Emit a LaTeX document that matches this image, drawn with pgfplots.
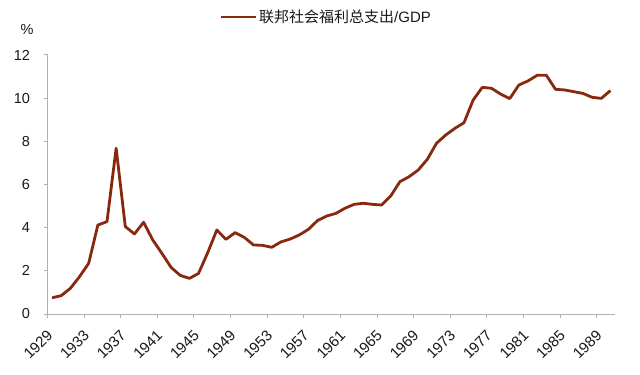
\documentclass[border=0pt]{standalone}
\usepackage{fontspec}
\setmainfont{Liberation Sans}
\newfontfamily\cjk{Noto Sans CJK SC}
\usepackage{pgfplots}
\usepackage{pgfplotstable}
\pgfplotsset{compat=1.18}
\definecolor{linec}{RGB}{135,40,15}
\definecolor{axc}{RGB}{175,175,175}
\definecolor{txt}{RGB}{25,25,25}

\pgfplotstableread{
year val
1929 0.75
1930 0.85
1931 1.19
1932 1.73
1933 2.35
1934 4.12
1935 4.28
1936 7.68
1937 4.05
1938 3.71
1939 4.25
1940 3.43
1941 2.81
1942 2.16
1943 1.79
1944 1.65
1945 1.88
1946 2.84
1947 3.89
1948 3.46
1949 3.77
1950 3.55
1951 3.20
1952 3.18
1953 3.09
1954 3.34
1955 3.47
1956 3.66
1957 3.92
1958 4.33
1959 4.54
1960 4.66
1961 4.90
1962 5.08
1963 5.13
1964 5.08
1965 5.05
1966 5.47
1967 6.13
1968 6.36
1969 6.67
1970 7.17
1971 7.91
1972 8.29
1973 8.60
1974 8.86
1975 9.91
1976 10.50
1977 10.46
1978 10.19
1979 9.98
1980 10.61
1981 10.80
1982 11.06
1983 11.06
1984 10.41
1985 10.38
1986 10.30
1987 10.22
1988 10.04
1989 9.99
1990 10.35
}\datatable

\begin{document}
\begin{tikzpicture}
\begin{axis}[
  scale only axis,
  width=567.5pt, height=259pt,
  xmin=1928.5, xmax=1990.5,
  ymin=0, ymax=12,
  axis x line*=bottom, axis y line*=left,
  axis line style={draw=axc, line width=1pt},
  tick align=outside,
  xtick={1929,1933,...,1989},
  major x tick style={draw=none},
  minor xtick={1928.5,1932.5,...,1988.5},
  minor x tick style={draw=axc, line width=1pt},
  minor tick length=4pt,
  ytick={0,2,...,12},
  major tick length=4pt,
  y tick style={draw=axc, line width=1pt},
  /pgf/number format/assume math mode=true,
  /pgf/number format/1000 sep={},
  yticklabel style={font=\fontsize{14.5}{16}\selectfont, text=txt, xshift=-10pt},
  xticklabel style={font=\fontsize{15}{16}\selectfont, text=txt, xshift=-6pt, yshift=-10pt, rotate=45, anchor=north east, inner sep=0.5pt},
  legend style={at={(0.491,1.147)}, anchor=center, draw=none, fill=none,
    font=\fontsize{15}{17}\selectfont, text=txt, inner sep=0pt,
    nodes={inner sep=2pt}},
  legend image code/.code={\draw[#1] (0pt,0pt) -- (35pt,0pt);},
  clip=false,
]
\addplot[linec, line width=2.8pt, line join=round] table[x=year, y=val]{\datatable};
\addlegendentry{{\cjk 联邦社会福利总支出}/GDP}
\node[font=\fontsize{14.5}{16}\selectfont, text=txt, xshift=-20.5pt, yshift=25pt] at (rel axis cs:0,1) {\%};
\end{axis}
\path (current axis.south west) ++(-47.5pt,-60pt) coordinate (bl);
\path (current axis.north east) ++(25pt,55pt) coordinate (tr);
\path (bl) rectangle (tr);
\end{tikzpicture}
\end{document}
